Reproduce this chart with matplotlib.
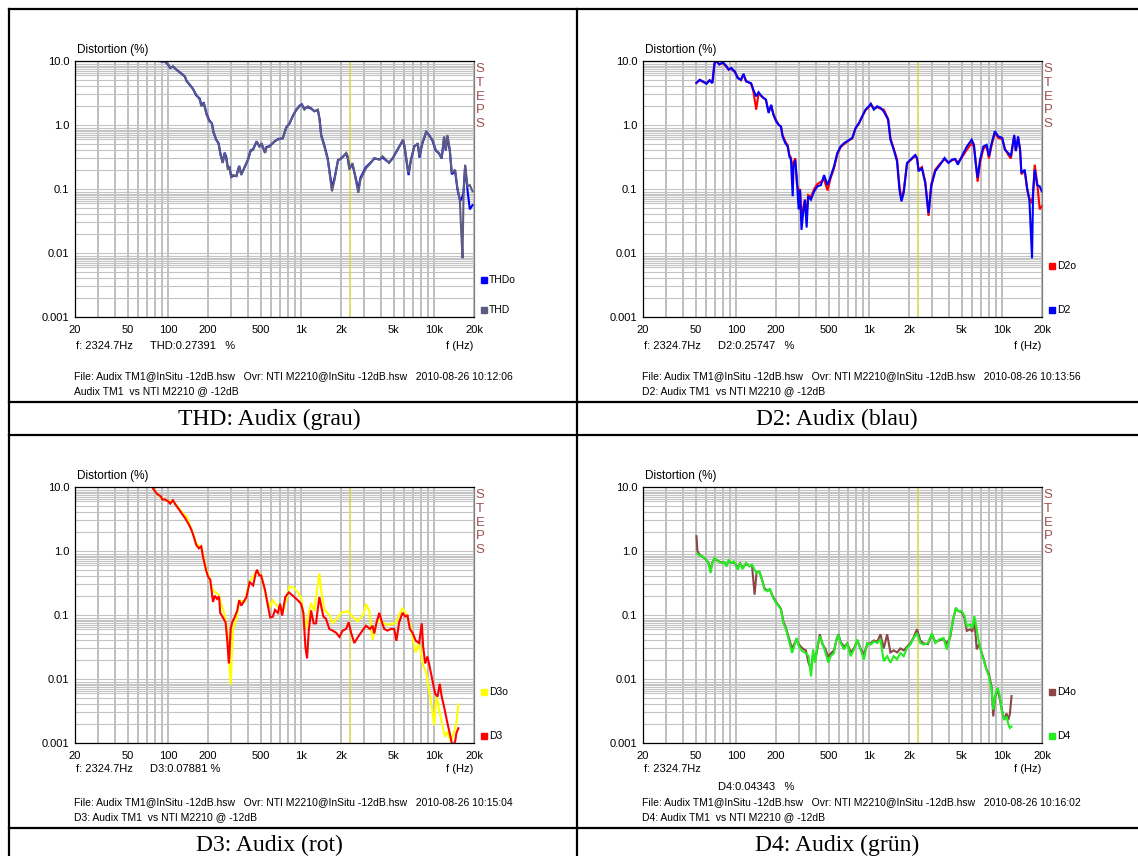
import numpy as np
import matplotlib
matplotlib.use('Agg')
import matplotlib.pyplot as plt
from matplotlib.lines import Line2D
from matplotlib.ticker import NullFormatter

plt.rcParams['font.family'] = ['Liberation Sans', 'DejaVu Sans']

#data: frequency (Hz) and distortion (%)
thd_f = [84, 95, 100, 104, 109, 116, 126, 134, 138, 146, 154, 163, 173, 178, 186, 195, 204, 214, 220, 231,
         240, 248, 258, 267, 274, 282, 290, 299, 308, 327, 343, 356, 378, 400, 418, 437, 464, 486, 506, 537,
         548, 582, 632, 670, 730, 775, 820, 870, 920, 974, 1015, 1060, 1125, 1190, 1260, 1340, 1380, 1420, 1500, 1590,
         1640, 1710, 1790, 1900, 2000, 2190, 2250, 2310, 2440, 2580, 2700, 2800, 3080, 3350, 3560, 3890, 4110, 4360, 4600, 4890,
         5340, 5850, 6020, 6220, 6440, 6720, 7130, 7560, 7780, 8150, 8750, 9270, 9740, 10300, 10900, 11430, 11920, 12270, 12620, 13150,
         13620, 14420, 15000, 15650, 16000, 16400, 16690, 17150, 17870, 18600, 19500]
thd_v = [10, 9.8, 8.8, 7.8, 8.25, 7.3, 6.3, 5.8, 4.8, 4.3, 3.65, 3.0, 2.5, 1.96, 2.2, 1.45, 1.15, 1.07, 0.75, 0.59,
         0.52, 0.34, 0.255, 0.365, 0.30, 0.20, 0.226, 0.15, 0.165, 0.158, 0.226, 0.165, 0.226, 0.287, 0.39, 0.41, 0.56, 0.46, 0.52, 0.365,
         0.44, 0.46, 0.56, 0.59, 0.63, 0.90, 1.07, 1.37, 1.74, 1.96, 2.07, 1.74, 1.96, 1.85, 1.63, 1.74, 1.21, 0.665, 0.46, 0.287,
         0.178, 0.092, 0.14, 0.287, 0.295, 0.365, 0.324, 0.20, 0.255, 0.14, 0.087, 0.14, 0.21, 0.255, 0.305, 0.287, 0.324, 0.287, 0.255, 0.305,
         0.41, 0.59, 0.46, 0.287, 0.178, 0.287, 0.46, 0.52, 0.324, 0.52, 0.80, 0.665, 0.59, 0.41, 0.365, 0.305, 0.665, 0.41, 0.70, 0.41,
         0.178, 0.20, 0.104, 0.068, 0.023, 0.0083, 0.087, 0.24, 0.11, 0.115, 0.092]
thdo_v = [10, 9.8, 8.8, 7.8, 8.2, 7.3, 6.4, 5.7, 4.9, 4.2, 3.7, 2.9, 2.6, 2.1, 2.2, 1.5, 1.2, 1.05, 0.78, 0.58,
          0.52, 0.36, 0.26, 0.37, 0.32, 0.22, 0.22, 0.155, 0.16, 0.16, 0.23, 0.17, 0.22, 0.29, 0.40, 0.42, 0.55, 0.47, 0.50, 0.37,
          0.45, 0.47, 0.55, 0.60, 0.62, 0.92, 1.05, 1.40, 1.70, 2.0, 2.1, 1.8, 1.9, 1.8, 1.65, 1.70, 1.25, 0.70, 0.48, 0.30,
          0.19, 0.104, 0.15, 0.28, 0.30, 0.36, 0.30, 0.21, 0.24, 0.15, 0.097, 0.15, 0.22, 0.26, 0.30, 0.29, 0.31, 0.28, 0.26, 0.30,
          0.42, 0.58, 0.44, 0.27, 0.165, 0.29, 0.47, 0.50, 0.31, 0.50, 0.78, 0.68, 0.57, 0.40, 0.36, 0.30, 0.64, 0.40, 0.66, 0.40,
          0.17, 0.19, 0.10, 0.068, 0.068, 0.077, 0.09, 0.226, 0.097, 0.048, 0.056]

d2_f = [50.4, 53.4, 56.5, 60, 63.4, 66.4, 69, 71, 75, 80, 85, 88, 92, 98, 103, 109, 114, 119, 130, 135,
        142, 148, 157, 168, 176, 184, 191, 200, 210, 218, 224, 235, 245, 252, 259, 267, 271, 279, 287, 296,
        303, 311, 320, 330, 340, 349, 366, 387, 410, 435, 460, 488, 516, 546, 578, 612, 649, 687, 750, 793,
        840, 890, 942, 998, 1033, 1089, 1153, 1221, 1292, 1393, 1450, 1535, 1626, 1695, 1755, 1825, 1933, 2047, 2230, 2297,
        2362, 2500, 2650, 2806, 2940, 3150, 3430, 3700, 3960, 4200, 4445, 4660, 4990, 5440, 5920, 6160, 6340, 6560, 6840, 7240,
        7670, 7980, 8360, 8850, 9380, 10050, 10520, 11150, 11670, 12360, 12710, 13220, 13680, 14000, 14830, 15450, 16080, 16450, 16830, 17140,
        17630, 18370, 19230, 19900]
d2_v = [4.53, 5.1, 4.8, 4.4, 5.0, 4.5, 9.3, 10, 8.8, 9.5, 8.25, 7.3, 7.8, 6.9, 5.4, 5.1, 6.3, 4.8, 4.5, 3.57,
        2.8, 3.25, 2.75, 2.5, 1.54, 2.07, 1.45, 1.15, 1.0, 0.95, 0.665, 0.52, 0.46, 0.324, 0.287, 0.077, 0.226, 0.287, 0.14, 0.048,
        0.098, 0.023, 0.042, 0.068, 0.025, 0.077, 0.068, 0.092, 0.11, 0.115, 0.165, 0.115, 0.158, 0.226, 0.365, 0.46, 0.52, 0.56, 0.63, 0.90,
        1.07, 1.37, 1.74, 1.96, 2.15, 1.74, 1.96, 1.85, 1.63, 1.21, 0.59, 0.41, 0.27, 0.097, 0.064, 0.087, 0.255, 0.287, 0.34, 0.305,
        0.19, 0.21, 0.124, 0.042, 0.11, 0.19, 0.24, 0.305, 0.255, 0.287, 0.295, 0.24, 0.324, 0.46, 0.59, 0.49, 0.255, 0.15, 0.287, 0.46,
        0.49, 0.324, 0.52, 0.80, 0.665, 0.63, 0.41, 0.365, 0.324, 0.70, 0.39, 0.665, 0.41, 0.178, 0.20, 0.104, 0.068, 0.023, 0.0083, 0.087,
        0.20, 0.115, 0.11, 0.092]
d2o_v = [4.6, 5.0, 4.7, 4.5, 5.0, 4.6, 9.0, 10, 9.0, 9.3, 8.0, 7.5, 7.5, 6.7, 5.6, 5.0, 6.2, 4.9, 4.4, 3.4,
         1.74, 3.1, 2.8, 2.45, 1.6, 2.0, 1.5, 1.2, 1.0, 0.93, 0.70, 0.55, 0.48, 0.34, 0.31, 0.20, 0.26, 0.30, 0.12, 0.09,
         0.10, 0.04, 0.05, 0.068, 0.04, 0.08, 0.075, 0.10, 0.12, 0.13, 0.14, 0.095, 0.15, 0.21, 0.35, 0.45, 0.50, 0.55, 0.62, 0.88,
         1.05, 1.35, 1.70, 1.90, 2.10, 1.80, 1.90, 1.80, 1.74, 1.25, 0.62, 0.43, 0.29, 0.11, 0.07, 0.095, 0.25, 0.28, 0.33, 0.30,
         0.20, 0.22, 0.13, 0.038, 0.12, 0.20, 0.25, 0.29, 0.26, 0.28, 0.29, 0.26, 0.31, 0.41, 0.52, 0.45, 0.28, 0.13, 0.26, 0.42,
         0.47, 0.30, 0.48, 0.75, 0.63, 0.60, 0.43, 0.34, 0.30, 0.68, 0.40, 0.62, 0.42, 0.17, 0.19, 0.10, 0.068, 0.068, 0.06, 0.087,
         0.24, 0.13, 0.048, 0.054]

d3_f = [76, 80, 84, 88, 91, 95, 100, 104, 109, 114, 119, 126, 134, 142, 150, 156, 163, 171, 178, 183,
        193, 200, 208, 218, 225, 234, 242, 247, 258, 271, 279, 287, 296, 304, 317, 332, 343, 356, 370, 389,
        411, 437, 456, 467, 486, 502, 537, 564, 587, 614, 638, 670, 697, 722, 762, 810, 870, 946, 1002, 1043,
        1080, 1112, 1145, 1192, 1245, 1298, 1335, 1375, 1417, 1475, 1540, 1635, 1732, 1835, 1945, 2060, 2185, 2285, 2380, 2520,
        2667, 2825, 3080, 3300, 3455, 3557, 3705, 3880, 4060, 4230, 4480, 4743, 5020, 5220, 5477, 5800, 6075, 6325, 6585, 6890,
        7303, 7735, 8100, 8290, 8590, 8930, 9290, 9740, 10200, 10640, 11050, 11440, 11910, 12620, 13140, 13770, 14420, 14740, 15250]
d3_v = [10, 8.5, 7.6, 7.2, 6.35, 6.4, 6.0, 5.5, 6.2, 5.3, 4.7, 3.95, 3.3, 2.7, 2.15, 1.7, 1.25, 1.1, 1.18, 0.83,
        0.51, 0.40, 0.355, 0.16, 0.20, 0.178, 0.195, 0.108, 0.0925, 0.077, 0.0405, 0.0175, 0.0605, 0.077, 0.092, 0.118, 0.17, 0.14, 0.16, 0.19,
        0.325, 0.29, 0.44, 0.51, 0.415, 0.415, 0.245, 0.14, 0.092, 0.094, 0.12, 0.108, 0.15, 0.098, 0.19, 0.226, 0.20, 0.17, 0.15, 0.108,
        0.0315, 0.021, 0.0575, 0.118, 0.074, 0.074, 0.12, 0.19, 0.14, 0.094, 0.088, 0.0605, 0.057, 0.053, 0.0455, 0.057, 0.0605, 0.077, 0.053, 0.0365,
        0.0445, 0.053, 0.068, 0.0605, 0.068, 0.0515, 0.077, 0.108, 0.077, 0.0605, 0.057, 0.0605, 0.0605, 0.0395, 0.077, 0.108, 0.095, 0.098, 0.0605, 0.053,
        0.0395, 0.0365, 0.074, 0.0325, 0.0175, 0.0225, 0.0155, 0.0095, 0.0059, 0.0053, 0.0084, 0.0053, 0.0037, 0.00205, 0.00142, 0.0009, 0.00105, 0.00142, 0.0017]
d3o_f = [76, 82, 88, 95, 100, 109, 119, 130, 138, 150, 163, 178, 193, 204, 218, 240, 253, 262, 279, 296,
         308, 327, 345, 378, 411, 464, 502, 548, 582, 614, 670, 730, 820, 890, 1002, 1080, 1192, 1260, 1375, 1417,
         1500, 1635, 1732, 1835, 2000, 2250, 2440, 2667, 2935, 3080, 3270, 3455, 3770, 4110, 4600, 5140, 5800, 6325, 6720, 7260,
         7735, 8200, 8750, 9270, 9650, 10030, 10450, 10900, 11560, 12100, 12620, 13400, 14200, 14740, 15250]
d3o_v = [10, 8.06, 7.0, 6.3, 6.0, 6.0, 4.9, 3.8, 3.48, 2.2, 1.3, 1.15, 0.55, 0.38, 0.24, 0.21, 0.14, 0.118, 0.06, 0.0081,
         0.0605, 0.085, 0.17, 0.16, 0.33, 0.48, 0.42, 0.20, 0.13, 0.17, 0.135, 0.108, 0.28, 0.265, 0.19, 0.0605, 0.155, 0.115, 0.45, 0.25,
         0.12, 0.10, 0.075, 0.085, 0.108, 0.115, 0.095, 0.08, 0.10, 0.15, 0.115, 0.041, 0.085, 0.075, 0.07, 0.075, 0.13, 0.095, 0.0605, 0.026,
         0.0365, 0.0175, 0.0125, 0.0059, 0.0037, 0.0019, 0.0055, 0.0035, 0.0019, 0.00125, 0.0015, 0.00105, 0.0015, 0.0021, 0.004]

d4_f = [51.3, 53.4, 56.5, 59.5, 62, 64.5, 66.4, 69, 73.3, 77.5, 82, 85, 88, 92.7, 96, 99.4, 103, 107.5, 112, 119,
        126, 132, 138, 143, 150, 157, 164, 173, 180, 188, 200, 210, 218, 227, 238, 249, 264, 274, 286, 296,
        317, 335, 351, 367, 380, 394, 410, 427, 447, 468, 495, 515, 546, 569, 589, 613, 649, 687, 728, 771,
        817, 865, 916, 970, 1028, 1089, 1153, 1221, 1292, 1370, 1450, 1535, 1626, 1723, 1825, 1933, 2047, 2168, 2297, 2433,
        2577, 2775, 2975, 3150, 3374, 3632, 3846, 4075, 4315, 4500, 4710, 4990, 5225, 5440, 5760, 5990, 6200, 6460, 6720, 7030,
        7370, 7660, 7980, 8360, 8600, 8850, 9270, 9640, 9930, 10400, 10820, 11150, 11460, 11800]
d4_v = [0.908, 0.846, 0.82, 0.732, 0.65, 0.453, 0.65, 0.778, 0.69, 0.65, 0.67, 0.575, 0.72, 0.65, 0.69, 0.61, 0.51, 0.65, 0.52, 0.65,
        0.575, 0.61, 0.51, 0.453, 0.48, 0.356, 0.249, 0.235, 0.26, 0.196, 0.154, 0.137, 0.121, 0.075, 0.0595, 0.0415, 0.0255, 0.0325, 0.0437, 0.0325,
        0.027, 0.0255, 0.0227, 0.011, 0.0289, 0.018, 0.0325, 0.0465, 0.0365, 0.027, 0.018, 0.0227, 0.0255, 0.0415, 0.049, 0.0365, 0.0289, 0.0365, 0.0227, 0.0289,
        0.0415, 0.0289, 0.0202, 0.0365, 0.0345, 0.0385, 0.0365, 0.0415, 0.019, 0.0227, 0.018, 0.0227, 0.0202, 0.0255, 0.0227, 0.0306, 0.0345, 0.0437, 0.052, 0.0365,
        0.0345, 0.0365, 0.052, 0.0365, 0.0415, 0.0437, 0.0289, 0.0465, 0.0895, 0.129, 0.115, 0.115, 0.096, 0.0665, 0.071, 0.0625, 0.096, 0.0595, 0.0365, 0.0255,
        0.018, 0.0139, 0.011, 0.0068, 0.0033, 0.0054, 0.0073, 0.0054, 0.0033, 0.0023, 0.0026, 0.002, 0.00172, 0.0018]
d4o_f = [50.5, 51.3, 53.4, 56.5, 59.5, 62, 64.5, 66.4, 69, 73.3, 77.5, 82, 85, 88, 92.7, 96, 99.4, 103, 107.5, 112, 119,
         126, 132, 138, 143, 150, 157, 164, 173, 180, 188, 200, 210, 218, 227, 238, 249, 264, 274, 286, 296,
         317, 335, 351, 367, 380, 394, 410, 427, 447, 468, 495, 515, 546, 569, 589, 613, 649, 687, 728, 771,
         817, 865, 916, 970, 1028, 1089, 1153, 1221, 1292, 1370, 1450, 1535, 1626, 1723, 1825, 1933, 2047, 2168, 2297, 2433,
         2577, 2775, 2975, 3150, 3374, 3632, 3846, 4075, 4315, 4500, 4710, 4990, 5225, 5440, 5760, 5990, 6200, 6460, 6720, 7030,
         7370, 7660, 7980, 8360, 8600, 8850, 9270, 9640, 9930, 10400, 10820, 11150, 11460, 11800]
d4o_v = [1.7, 1.0, 0.87, 0.80, 0.74, 0.66, 0.50, 0.66, 0.76, 0.70, 0.66, 0.66, 0.60, 0.70, 0.65, 0.66, 0.62, 0.55, 0.64, 0.55, 0.63,
         0.58, 0.60, 0.208, 0.47, 0.47, 0.36, 0.26, 0.24, 0.25, 0.20, 0.16, 0.14, 0.125, 0.08, 0.062, 0.045, 0.03, 0.035, 0.042, 0.035,
         0.03, 0.028, 0.018, 0.014, 0.025, 0.02, 0.03, 0.05, 0.035, 0.03, 0.022, 0.025, 0.028, 0.04, 0.05, 0.038, 0.032, 0.036, 0.026, 0.03,
         0.04, 0.03, 0.024, 0.035, 0.036, 0.04, 0.038, 0.05, 0.03, 0.05, 0.026, 0.028, 0.026, 0.03, 0.028, 0.032, 0.036, 0.045, 0.06, 0.04,
         0.036, 0.035, 0.05, 0.038, 0.04, 0.042, 0.036, 0.044, 0.09, 0.125, 0.115, 0.11, 0.09, 0.0565, 0.06, 0.055, 0.085, 0.029, 0.035, 0.026,
         0.019, 0.014, 0.012, 0.0075, 0.0026, 0.005, 0.007, 0.0048, 0.0035, 0.0023, 0.0029, 0.0023, 0.0028, 0.0054]

#axis labels
x_ticks = [20, 50, 100, 200, 500, 1000, 2000, 5000, 10000, 20000]
x_labels = ['20', '50', '100', '200', '500', '1k', '2k', '5k', '10k', '20k']
y_ticks = [0.001, 0.01, 0.1, 1, 10]
y_labels = ['0.001', '0.01', '0.1', '1.0', '10.0']
cursor_f = 2324.7

footer = 'File: Audix TM1@InSitu -12dB.hsw   Ovr: NTI M2210@InSitu -12dB.hsw   2010-08-26 '

panels = [
    dict(ox=0, oy=0, lines=[(thd_f, thdo_v, '#0000ff'), (thd_f, thd_v, '#5c5c82')],
         names=['THDo', 'THD'], leg_y=[280, 310], value='THD:0.27391   %', value_y=346, info_y=346,
         stamp='10:12:06', sub='Audix TM1  vs NTI M2210 @ -12dB', caption='THD: Audix (grau)'),
    dict(ox=568, oy=0, lines=[(d2_f, d2o_v, '#ff0000'), (d2_f, d2_v, '#0000ff')],
         names=['D2o', 'D2'], leg_y=[266, 310], value='D2:0.25747   %', value_y=346, info_y=346,
         stamp='10:13:56', sub='D2: Audix TM1  vs NTI M2210 @ -12dB', caption='D2: Audix (blau)'),
    dict(ox=0, oy=426, lines=[(d3o_f, d3o_v, '#ffff00'), (d3_f, d3_v, '#ff0000')],
         names=['D3o', 'D3'], leg_y=[266, 310], value='D3:0.07881 %', value_y=343, info_y=343,
         stamp='10:15:04', sub='D3: Audix TM1  vs NTI M2210 @ -12dB', caption='D3: Audix (rot)'),
    dict(ox=568, oy=426, lines=[(d4o_f, d4o_v, '#8c4646'), (d4_f, d4_v, '#22ee22')],
         names=['D4o', 'D4'], leg_y=[266, 310], value='D4:0.04343   %', value_y=361, info_y=343,
         stamp='10:16:02', sub='D4: Audix TM1  vs NTI M2210 @ -12dB', caption='D4: Audix (grün)'),
]

W, H = 1138, 856
fig = plt.figure(figsize=(W / 100, H / 100), dpi=100)

def fx(px):
    return px / W

def fy(py):
    return 1 - py / H

x_grid = [m * 10 ** e for e in range(1, 5) for m in range(1, 10) if 20 <= m * 10 ** e <= 20000]
y_grid = [m * 10.0 ** e for e in range(-3, 1) for m in (1, 2, 3, 4, 5, 6, 6.5, 7, 7.5, 8, 8.5, 9)] + [10]

for p in panels:
    ox, oy = p['ox'], p['oy']
    ax = fig.add_axes([fx(ox + 75), fy(oy + 317), 399 / W, 256 / H])
    ax.set_xscale('log')
    ax.set_yscale('log')

    for f, v, c in p['lines']:
        ax.plot(f, v, color=c, lw=1.5, solid_joinstyle='miter')
    ax.axvline(cursor_f, color='#d4d44c', lw=1.1, zorder=1.5)

    ax.set_xlim(20, 20000)
    ax.set_ylim(0.001, 10)
    ax.set_xticks(x_ticks, x_labels)
    ax.set_yticks(y_ticks, y_labels)
    ax.set_xticks(x_grid, minor=True)
    ax.set_yticks(y_grid, minor=True)
    ax.xaxis.set_minor_formatter(NullFormatter())
    ax.yaxis.set_minor_formatter(NullFormatter())
    ax.tick_params(which='both', length=0, labelsize=8)
    ax.tick_params(axis='x', pad=6)
    ax.tick_params(axis='y', pad=4)
    ax.grid(which='both', axis='x', color='#b4b4b4', lw=1.2)
    ax.grid(which='both', axis='y', color='#c4c4c4', lw=0.8)
    ax.set_axisbelow(True)
    for s in ['left', 'bottom', 'top']:
        ax.spines[s].set_color('black')
        ax.spines[s].set_linewidth(0.9)
    ax.spines['right'].set_color('#808080')
    ax.spines['right'].set_linewidth(0.9)

    fig.text(fx(ox + 77), fy(oy + 50), 'Distortion (%)', fontsize=8.5, va='center')
    for i, ch in enumerate('STEPS'):
        fig.text(fx(ox + 480), fy(oy + 69 + i * 13.8), ch, fontsize=9.5, color='#a05050',
                 ha='center', va='center')

    #legend squares
    for name, ly, (f, v, c) in zip(p['names'], p['leg_y'], p['lines']):
        fig.add_artist(Line2D([fx(ox + 484)], [fy(oy + ly)], marker='s', markersize=4.5,
                              color=c, transform=fig.transFigure))
        fig.text(fx(ox + 489), fy(oy + ly), name, fontsize=7.5, va='center')

    fig.text(fx(ox + 76), fy(oy + p['info_y']), 'f: 2324.7Hz', fontsize=8, va='center')
    fig.text(fx(ox + 150), fy(oy + p['value_y']), p['value'], fontsize=8, va='center')
    fig.text(fx(ox + 473), fy(oy + p['info_y']), 'f (Hz)', fontsize=8, va='center', ha='right')
    fig.text(fx(ox + 74), fy(oy + 376), footer + p['stamp'], fontsize=7.5, va='center')
    fig.text(fx(ox + 74), fy(oy + 391), p['sub'], fontsize=7.5, va='center')
    fig.text(fx(ox + 269), fy(oy + 419), p['caption'], fontsize=17, va='center', ha='center',
             family='Liberation Serif')

#table lines
for y in [9, 402, 435, 828]:
    fig.add_artist(Line2D([fx(9), 1], [fy(y), fy(y)], color='black', lw=1.6, transform=fig.transFigure))
for x in [9, 577]:
    fig.add_artist(Line2D([fx(x), fx(x)], [fy(9), 0], color='black', lw=1.6, transform=fig.transFigure))

fig.savefig('out.png', dpi=100)
